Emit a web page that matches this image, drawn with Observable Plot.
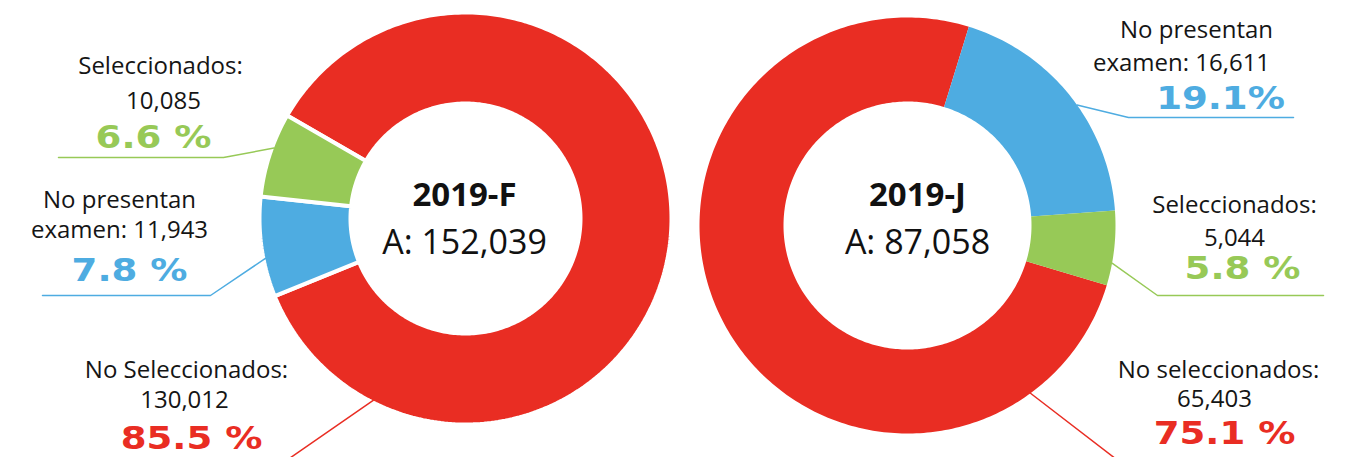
<!DOCTYPE html>
<html><head><meta charset="utf-8">
<script src="https://cdn.jsdelivr.net/npm/d3@7"></script>
<script src="https://cdn.jsdelivr.net/npm/@observablehq/plot@0.6"></script>
<style>
html,body{margin:0;padding:0;background:#fff;overflow:hidden;}
</style></head><body><div id="chart"></div>
<script>
// ---- data ----
const categories = ["Seleccionados", "No presentan examen", "No seleccionados"];
const periods = ["2019-F", "2019-J"];
const totals = [152039, 87058];
const countsF = [10085, 11943, 130012];
const countsJ = [5044, 16611, 65403];
const pctLabelsF = ["6.6 %", "7.8 %", "85.5 %"];
const pctLabelsJ = ["5.8 %", "19.1%", "75.1 %"];
const namesF = ["Seleccionados:", "No presentan", "No Seleccionados:"];
const namesJ = ["Seleccionados:", "No presentan", "No seleccionados:"];
const colors = ["#97c957", "#4eace1", "#e92d23"];

// ---- layout (positions only) ----
const W = 1353, H = 457;
const layout = [
  { cx: 465, cy: 218, R: 206, r: 115, start: 300, sep: 4, titleX: 464,
    blocks: [
      {lines: [[160, 73], [163, 108]], pct: [153, 147], frac: 0.59, elbow: [223, 157], end: 58},
      {lines: [[119, 207], [119, 237]], pct: [129, 280], frac: 0.385, elbow: [210, 295], end: 42},
      {lines: [[186, 377], [184, 407]], pct: [191, 448], frac: 0.867, elbow: [283, 462], end: 283}
    ]},
  { cx: 907, cy: 225, R: 208, r: 124, start: 106.7, sep: 0, titleX: 917,
    blocks: [
      {lines: [[1234, 212], [1234, 245]], pct: [1242, 278], frac: 0.70, elbow: [1157, 295], end: 1323},
      {lines: [[1196, 37], [1181, 70]], pct: [1220, 108], frac: 0.545, elbow: [1128, 117], end: 1293},
      {lines: [[1218, 377], [1214, 406]], pct: [1224, 443], frac: 0.137, elbow: [1120, 462], end: 1120}
    ]}
];
const pctStretch = 1.16;

const fmt = d3.format(",");
const rad = Math.PI / 180;
const slicePts = [], leaderPts = [], labels = [], pcts = [], titles = [];

periods.forEach((p, k) => {
  const L = layout[k];
  const counts = k === 0 ? countsF : countsJ;
  const names = k === 0 ? namesF : namesJ;
  const pctLabels = k === 0 ? pctLabelsF : pctLabelsJ;
  const order = [2, 1, 0];
  const arcs = d3.pie().sort(null).value(i => counts[i])
    .startAngle(L.start * rad).endAngle(L.start * rad + 2 * Math.PI)(order);
  arcs.forEach(a => {
    const i = a.data, id = p + "-" + i, cat = categories[i];
    const n = Math.max(2, Math.ceil((a.endAngle - a.startAngle) / rad));
    const pts = [];
    for (let j = 0; j <= n; j++) {
      const t = a.startAngle + (a.endAngle - a.startAngle) * j / n;
      pts.push([L.cx + L.R * Math.sin(t), L.cy - L.R * Math.cos(t)]);
    }
    for (let j = n; j >= 0; j--) {
      const t = a.startAngle + (a.endAngle - a.startAngle) * j / n;
      pts.push([L.cx + L.r * Math.sin(t), L.cy - L.r * Math.cos(t)]);
    }
    pts.push(pts[0]);
    pts.forEach(([x, y]) => slicePts.push({x, y, id, cat, period: p}));

    const B = L.blocks[i];
    const t = a.startAngle + (a.endAngle - a.startAngle) * B.frac;
    const rr = L.R - L.sep / 2;
    leaderPts.push({x: L.cx + rr * Math.sin(t), y: L.cy - rr * Math.cos(t), id, cat});
    leaderPts.push({x: B.elbow[0], y: B.elbow[1], id, cat});
    leaderPts.push({x: B.end, y: B.elbow[1], id, cat});

    const lineTexts = i === 1 ? [names[i], "examen: " + fmt(counts[i])] : [names[i], fmt(counts[i])];
    lineTexts.forEach((s, j) => labels.push({x: B.lines[j][0], y: B.lines[j][1], text: s}));
    pcts.push({x: B.pct[0], y: B.pct[1], text: pctLabels[i], cat});
  });
  titles.push({x: L.titleX, y: 205, text: p, bold: true});
  titles.push({x: L.titleX, y: 253, text: "A: " + fmt(totals[k]), bold: false});
});

const chart = Plot.plot({
  width: W, height: H, margin: 0,
  x: {domain: [0, W], range: [0, W], axis: null},
  y: {domain: [0, H], range: [0, H], axis: null},
  color: {domain: categories, range: colors},
  style: {background: "white", overflow: "hidden"},
  marks: [
    Plot.line(slicePts.filter(d => d.period === periods[0]), {x: "x", y: "y", z: "id", fill: "cat", stroke: "white", strokeWidth: 4, strokeLinejoin: "miter", curve: "linear"}),
    Plot.line(slicePts.filter(d => d.period === periods[1]), {x: "x", y: "y", z: "id", fill: "cat", stroke: "none", curve: "linear"}),
    Plot.line(leaderPts, {x: "x", y: "y", z: "id", stroke: "cat", strokeWidth: 1.5, clip: true, curve: "linear"}),
    Plot.text(labels, {x: "x", y: "y", text: "text", lineAnchor: "bottom", textAnchor: "middle", fontFamily: "Open Sans", fontSize: 24, fill: "#151515"}),
    Plot.text(pcts, {x: "x", y: "y", text: "text", fill: "cat", lineAnchor: "bottom", textAnchor: "middle", fontFamily: "DejaVu Sans", fontWeight: "bold", fontSize: 32}),
    Plot.text(titles.filter(d => d.bold), {x: "x", y: "y", text: "text", lineAnchor: "bottom", textAnchor: "middle", fontFamily: "Open Sans", fontWeight: "bold", fontSize: 33, fill: "#111"}),
    Plot.text(titles.filter(d => !d.bold), {x: "x", y: "y", text: "text", lineAnchor: "bottom", textAnchor: "middle", fontFamily: "Open Sans", fontSize: 34, fill: "#111"})
  ]
});
// widen the bold percentage labels horizontally (style only; positions stay from the scales)
chart.querySelectorAll('g[font-family="DejaVu Sans"] text').forEach(t => {
  let tr = t.getAttribute("transform") || "";
  const x = t.getAttribute("x"), y = t.getAttribute("y");
  if (x !== null && !/em$/.test(x)) { tr = `translate(${x},0) ` + tr; t.removeAttribute("x"); }
  if (y !== null && !/em$/.test(y)) { tr = `translate(0,${y}) ` + tr; t.removeAttribute("y"); }
  t.setAttribute("transform", (tr + ` scale(${pctStretch},1)`).trim());
});
document.getElementById("chart").append(chart);
</script></body></html>
